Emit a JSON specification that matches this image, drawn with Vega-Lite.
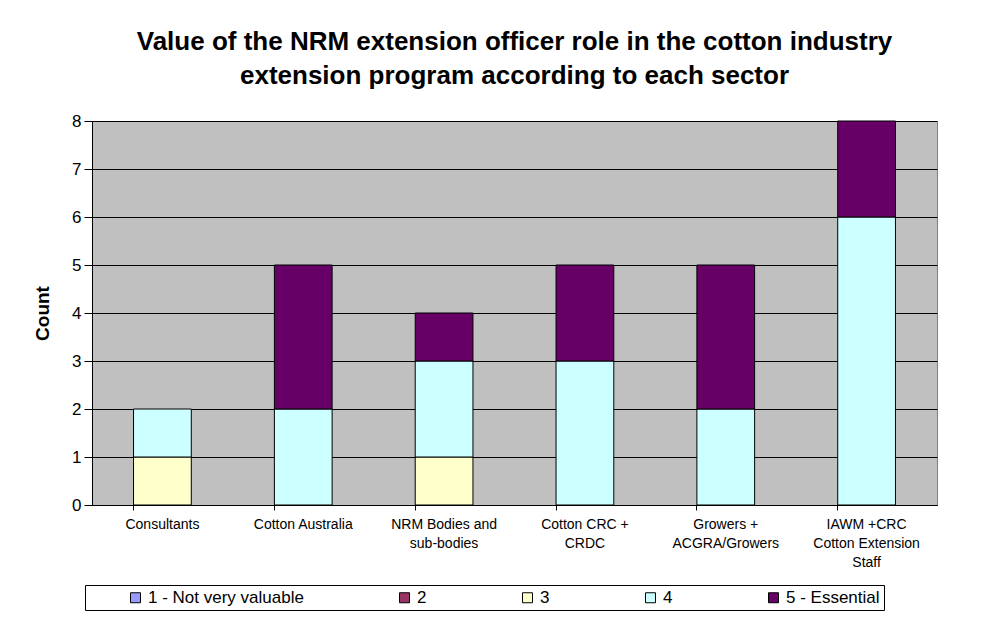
{
  "$schema": "https://vega.github.io/schema/vega-lite/v6.json",
  "width": 845,
  "height": 384,
  "autosize": {"type": "none"},
  "padding": {"left": 92, "top": 121, "right": 68, "bottom": 132},
  "background": "white",
  "title": {
    "text": ["Value of the NRM extension officer role in the cotton industry", "extension program according to each sector"],
    "font": "Liberation Sans",
    "fontSize": 26,
    "fontWeight": "bold",
    "lineHeight": 34,
    "color": "black",
    "anchor": "middle",
    "offset": 23
  },
  "config": {
    "view": {"fill": "#C0C0C0", "stroke": "#808080", "strokeWidth": 1},
    "font": "Liberation Sans"
  },
  "data": {
    "values": [
      {"sector": "Consultants", "rating": "3", "count": 1},
      {"sector": "Consultants", "rating": "4", "count": 1},
      {"sector": "Cotton Australia", "rating": "4", "count": 2},
      {"sector": "Cotton Australia", "rating": "5 - Essential", "count": 3},
      {"sector": "NRM Bodies and sub-bodies", "rating": "3", "count": 1},
      {"sector": "NRM Bodies and sub-bodies", "rating": "4", "count": 2},
      {"sector": "NRM Bodies and sub-bodies", "rating": "5 - Essential", "count": 1},
      {"sector": "Cotton CRC + CRDC", "rating": "4", "count": 3},
      {"sector": "Cotton CRC + CRDC", "rating": "5 - Essential", "count": 2},
      {"sector": "Growers + ACGRA/Growers", "rating": "4", "count": 2},
      {"sector": "Growers + ACGRA/Growers", "rating": "5 - Essential", "count": 3},
      {"sector": "IAWM +CRC Cotton Extension Staff", "rating": "4", "count": 6},
      {"sector": "IAWM +CRC Cotton Extension Staff", "rating": "5 - Essential", "count": 2}
    ]
  },
  "mark": {"type": "bar", "stroke": "black", "strokeWidth": 1},
  "encoding": {
    "x": {
      "field": "sector",
      "type": "nominal",
      "sort": null,
      "scale": {"paddingInner": 0.59, "paddingOuter": 0.295},
      "axis": {
        "title": null,
        "labelAngle": 0,
        "labelFont": "Liberation Sans",
        "labelFontSize": 14,
        "labelColor": "black",
        "labelLineHeight": 19,
        "labelPadding": 7,
        "labelBaseline": "top",
        "labelExpr": "datum.label == 'NRM Bodies and sub-bodies' ? ['NRM Bodies and', 'sub-bodies'] : datum.label == 'Cotton CRC + CRDC' ? ['Cotton CRC +', 'CRDC'] : datum.label == 'Growers + ACGRA/Growers' ? ['Growers +', 'ACGRA/Growers'] : datum.label == 'IAWM +CRC Cotton Extension Staff' ? ['IAWM +CRC', 'Cotton Extension', 'Staff'] : datum.label",
        "bandPosition": 0,
        "ticks": true,
        "tickSize": 5,
        "tickColor": "black",
        "domainColor": "black",
        "grid": false
      }
    },
    "y": {
      "field": "count",
      "type": "quantitative",
      "aggregate": "sum",
      "stack": "zero",
      "scale": {"domain": [0, 8], "nice": false},
      "axis": {
        "title": "Count",
        "titleFont": "Liberation Sans",
        "titleFontSize": 19,
        "titleFontWeight": "bold",
        "titleColor": "black",
        "titlePadding": 19,
        "values": [0, 1, 2, 3, 4, 5, 6, 7, 8],
        "labelFont": "Liberation Sans",
        "labelFontSize": 17,
        "labelColor": "black",
        "labelPadding": 3,
        "tickSize": 8,
        "tickColor": "black",
        "domainColor": "black",
        "grid": true,
        "gridColor": "black",
        "gridOpacity": 1,
        "gridWidth": 1
      }
    },
    "color": {
      "field": "rating",
      "type": "nominal",
      "scale": {
        "domain": ["1 - Not very valuable", "2", "3", "4", "5 - Essential"],
        "range": ["#9999FF", "#993366", "#FFFFCC", "#CCFFFF", "#660066"]
      },
      "legend": {
        "title": " ",
        "titleOrient": "left",
        "titlePadding": 38,
        "orient": "none",
        "direction": "horizontal",
        "legendX": -7,
        "legendY": 464,
        "symbolType": "square",
        "symbolSize": 100,
        "symbolStrokeColor": "black",
        "symbolStrokeWidth": 1,
        "labelFont": "Liberation Sans",
        "labelFontSize": 17,
        "labelColor": "black",
        "labelOffset": 4,
        "columnPadding": 92,
        "strokeColor": "black",
        "padding": 4,
        "fillColor": "white"
      }
    },
    "order": {"field": "rating", "sort": "ascending"}
  }
}
